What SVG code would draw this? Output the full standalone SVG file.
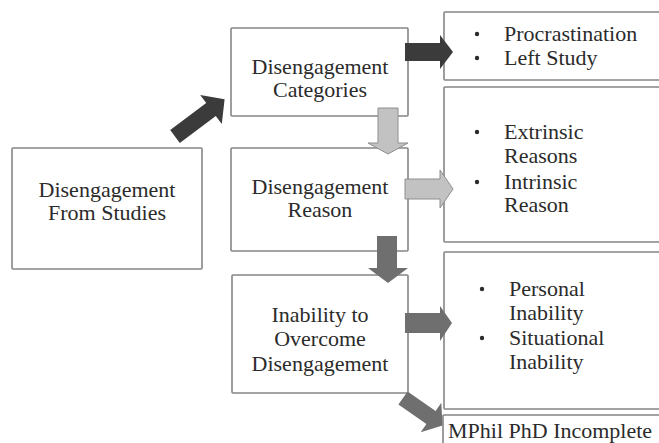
<svg xmlns="http://www.w3.org/2000/svg" width="659" height="443" viewBox="0 0 659 443" font-family="Liberation Serif, Times New Roman, serif">
  <rect width="659" height="443" fill="#ffffff"/>

  <!-- nodes -->
  <g id="node-studies" text-anchor="middle" fill="#2b2b2b" font-size="22">
    <rect x="12" y="148" width="190" height="121" rx="1" fill="#ffffff" stroke="#858585" stroke-width="1.6"/>
    <text x="107" y="197">Disengagement</text>
    <text x="107" y="220">From Studies</text>
  </g>

  <g id="node-categories" text-anchor="middle" fill="#2b2b2b" font-size="22">
    <rect x="231" y="28" width="177" height="88" rx="1" fill="#ffffff" stroke="#858585" stroke-width="1.6"/>
    <text x="320" y="74">Disengagement</text>
    <text x="320" y="97">Categories</text>
  </g>

  <g id="node-reason" text-anchor="middle" fill="#2b2b2b" font-size="22">
    <rect x="231" y="148" width="177" height="103" rx="1" fill="#ffffff" stroke="#858585" stroke-width="1.6"/>
    <text x="320" y="194">Disengagement</text>
    <text x="320" y="217">Reason</text>
  </g>

  <g id="node-inability" text-anchor="middle" fill="#2b2b2b" font-size="22">
    <rect x="232" y="275" width="176" height="118" rx="1" fill="#ffffff" stroke="#858585" stroke-width="1.6"/>
    <text x="320" y="322">Inability to</text>
    <text x="320" y="346">Overcome</text>
    <text x="320" y="371">Disengagement</text>
  </g>

  <g id="node-category-list" fill="#2b2b2b" font-size="22">
    <rect x="444" y="12" width="220" height="68" rx="1" fill="#ffffff" stroke="#858585" stroke-width="1.6"/>
    <circle cx="477" cy="34" r="2.2"/>
    <text x="504" y="41">Procrastination</text>
    <circle cx="477" cy="58" r="2.2"/>
    <text x="504" y="65">Left Study</text>
  </g>

  <g id="node-reason-list" fill="#2b2b2b" font-size="22">
    <rect x="444" y="87" width="220" height="155" rx="1" fill="#ffffff" stroke="#858585" stroke-width="1.6"/>
    <circle cx="477" cy="132" r="2.2"/>
    <text x="504" y="139">Extrinsic</text>
    <text x="504" y="163">Reasons</text>
    <circle cx="477" cy="182" r="2.2"/>
    <text x="504" y="189">Intrinsic</text>
    <text x="504" y="212">Reason</text>
  </g>

  <g id="node-inability-list" fill="#2b2b2b" font-size="22">
    <rect x="444" y="252" width="220" height="157" rx="1" fill="#ffffff" stroke="#858585" stroke-width="1.6"/>
    <circle cx="482" cy="289" r="2.2"/>
    <text x="509" y="296">Personal</text>
    <text x="509" y="320">Inability</text>
    <circle cx="482" cy="338" r="2.2"/>
    <text x="509" y="345">Situational</text>
    <text x="509" y="369">Inability</text>
  </g>

  <g id="node-outcome" fill="#2b2b2b" font-size="22">
    <rect x="443" y="415" width="221" height="40" rx="1" fill="#ffffff" stroke="#858585" stroke-width="1.6"/>
    <text x="448" y="438">MPhil PhD Incomplete</text>
  </g>

  <!-- connectors: block arrows -->
  <g id="connectors">
    <!-- studies -> categories -->
    <polygon fill="#3b3b3b" points="170.2,130.1 179.8,142.9 215.8,115.9 221.8,123.9 224.6,99.3 200.2,95.1 206.2,103.1"/>
    <!-- categories -> category list -->
    <polygon fill="#3b3b3b" points="405,43 440,43 440,35 453,52 440,69 440,61 405,61"/>
    <!-- categories -> reason -->
    <polygon fill="#c2c2c2" stroke="#8e8e8e" stroke-width="1" points="378,108 398,108 398,143 408,143 388,154 368,143 378,143"/>
    <!-- reason -> reason list -->
    <polygon fill="#c2c2c2" stroke="#8e8e8e" stroke-width="1" points="405,179 440,179 440,170 453,189 440,208 440,199 405,199"/>
    <!-- reason -> inability -->
    <polygon fill="#6f6f6f" points="377,236 397,236 397,268 408,268 388,283 368,268 377,268"/>
    <!-- inability -> inability list -->
    <polygon fill="#6f6f6f" points="405,313 440,313 440,306 452,323 440,341 440,333 405,333"/>
    <!-- inability -> outcome -->
    <polygon fill="#6f6f6f" points="407.6,391.4 398.4,404.6 426.4,424.1 420.7,432.3 442.5,425.5 441.3,402.7 435.6,410.9"/>
  </g>
</svg>
